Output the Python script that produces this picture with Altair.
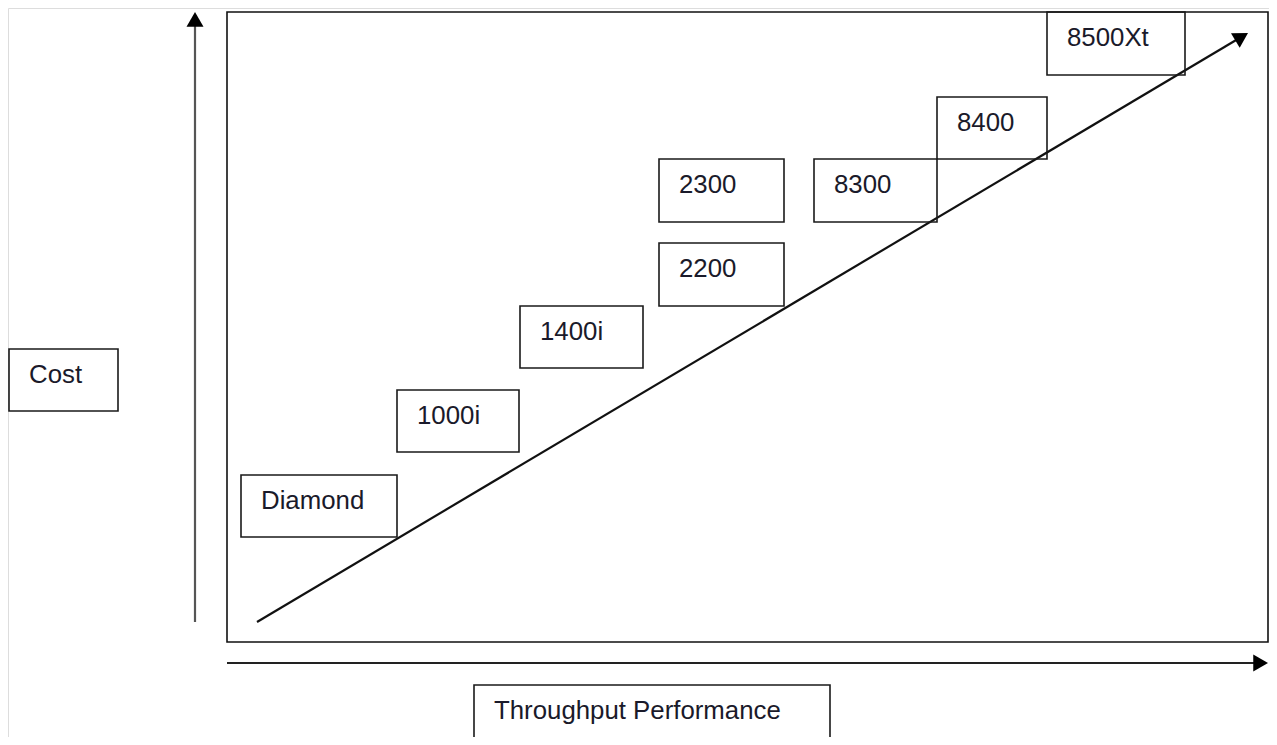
import math
import altair as alt
import pandas as pd

# ---- diagram data (page pixel coordinates of the schematic) ----
products = ["Diamond", "1000i", "1400i", "2200", "2300", "8300", "8400", "8500Xt"]
box_left = [241, 397, 520, 659, 659, 814, 937, 1047]
box_right = [397, 519, 643, 784, 784, 937, 1047, 1185]
box_top = [475, 390, 306, 243, 159, 159, 97, 12]
box_bottom = [537, 452, 368, 306, 222, 222, 159, 75]

axis_titles = ["Cost", "Throughput Performance"]
title_left = [9, 474]
title_right = [118, 830]
title_top = [349, 685]
title_bottom = [411, 760]

frame_box = [227, 1268, 12, 642]  # left, right, top, bottom

arrow_names = ["cost_axis", "throughput_axis", "trend"]
arrow_x0 = [195, 227, 257]
arrow_y0 = [622, 663, 622]
arrow_x1 = [195, 1268, 1248]
arrow_y1 = [12, 663, 33]
arrow_color = ["#555555", "#222222", "#111111"]

HEAD = 17  # arrow head width
head_h = math.sqrt(3) / 2 * HEAD

# ---- build tables ----
boxes = pd.DataFrame({
    "label": products + axis_titles,
    "x0": box_left + title_left,
    "x1": box_right + title_right,
    "y0": box_top + title_top,
    "y1": box_bottom + title_bottom,
})
boxes["tx"] = boxes["x0"] + 20
boxes["ty"] = boxes["y0"] + 34

frame = pd.DataFrame({"x0": [frame_box[0]], "x1": [frame_box[1]],
                      "y0": [frame_box[2]], "y1": [frame_box[3]]})

shafts, heads = [], []
for n, a, b, c, d, col in zip(arrow_names, arrow_x0, arrow_y0, arrow_x1, arrow_y1, arrow_color):
    dx, dy = c - a, d - b
    L = math.hypot(dx, dy)
    ux, uy = dx / L, dy / L
    shafts.append({"name": n, "x0": a, "y0": b,
                   "x1": c - ux * head_h * 0.9, "y1": d - uy * head_h * 0.9, "col": col})
    ang = math.degrees(math.atan2(dx, -dy)) % 360
    heads.append({"name": n, "x": c - ux * head_h / 2, "y": d - uy * head_h / 2,
                  "angle": ang})
shafts = pd.DataFrame(shafts)
heads = pd.DataFrame(heads)

W, H = 1261, 729
xs = alt.Scale(domain=[8, 8 + W])
ys = alt.Scale(domain=[8, 8 + H], reverse=True)

frame_layer = alt.Chart(frame).mark_rect(fill="white", fillOpacity=0, stroke="#111111",
                                         strokeWidth=1.6).encode(
    x=alt.X("x0:Q", scale=xs, axis=None), x2="x1:Q",
    y=alt.Y("y0:Q", scale=ys, axis=None), y2="y1:Q")

shaft_layer = alt.Chart(shafts).mark_rule(strokeWidth=2.2).encode(
    x=alt.X("x0:Q", scale=xs, axis=None), x2="x1:Q",
    y=alt.Y("y0:Q", scale=ys, axis=None), y2="y1:Q",
    color=alt.Color("col:N", scale=None))

head_layer = alt.Chart(heads).mark_point(shape="triangle-up", filled=True, opacity=1,
                                         size=HEAD * HEAD, color="#000000").encode(
    x=alt.X("x:Q", scale=xs, axis=None),
    y=alt.Y("y:Q", scale=ys, axis=None),
    angle=alt.Angle("angle:Q", scale=None))

box_layer = alt.Chart(boxes).mark_rect(fill="white", fillOpacity=0, stroke="#1a1a1a",
                                       strokeWidth=1.6).encode(
    x=alt.X("x0:Q", scale=xs, axis=None), x2="x1:Q",
    y=alt.Y("y0:Q", scale=ys, axis=None), y2="y1:Q")

text_layer = alt.Chart(boxes).mark_text(align="left", baseline="alphabetic",
                                        font="Liberation Sans", fontSize=25.8,
                                        color="#1a1a2a").encode(
    x=alt.X("tx:Q", scale=xs, axis=None),
    y=alt.Y("ty:Q", scale=ys, axis=None),
    text="label:N")

chart = alt.layer(frame_layer, shaft_layer, head_layer, box_layer, text_layer).properties(
    width=W, height=H, padding=0,
    autosize=alt.AutoSizeParams(type="none"),
).configure_view(stroke=None).configure(background="transparent")

chart.save("out.html", embed_options={"renderer": "svg", "actions": False})
